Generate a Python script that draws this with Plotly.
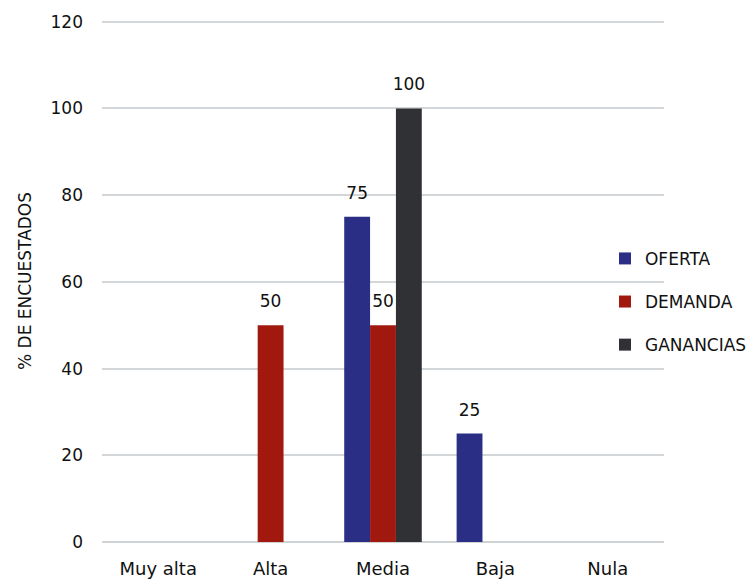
import plotly.graph_objects as go

categories = ["Muy alta", "Alta", "Media", "Baja", "Nula"]
oferta = [0, 0, 75, 25, 0]
demanda = [0, 50, 50, 0, 0]
ganancias = [0, 0, 100, 0, 0]
series_names = ["OFERTA", "DEMANDA", "GANANCIAS"]
y_ticks = [0, 20, 40, 60, 80, 100, 120]

colors = ["#2a2f85", "#a0180e", "#2f3134"]
font_family = "'DejaVu Sans', sans-serif"

fig = go.Figure()
for i, (name, vals) in enumerate(zip(series_names, [oferta, demanda, ganancias])):
    fig.add_trace(go.Bar(
        x=categories, y=vals, name=name,
        marker=dict(color=colors[i], line=dict(width=0)),
        text=[f"<span style='font-size:17px'>{v}</span><br>\u00a0" if v else "" for v in vals],
        textposition="outside",
        constraintext="none",
        textfont=dict(size=10, color="#111111", family=font_family),
        cliponaxis=False,
        legendgroup=name,
    ))

# The page body has an 8px default margin; the figure is sized so it ends at the window edge.
fig.update_layout(
    width=747, height=576,
    margin=dict(l=94, r=91, t=12, b=42, autoexpand=False),
    paper_bgcolor="white", plot_bgcolor="white",
    barmode="group", bargap=0.31, bargroupgap=0,
    font=dict(family=font_family, color="#111111", size=16),
    legend=dict(
        x=0.895, y=0.46, xanchor="left", yanchor="middle",
        bgcolor="rgba(0,0,0,0)", tracegroupgap=18,
        font=dict(size=17, color="#111111", family=font_family),
    ),
    xaxis=dict(showgrid=False, showline=False, ticks="", automargin=False,
               tickfont=dict(size=18, color="#111111"), ticklabelstandoff=14),
    yaxis=dict(
        range=[0, 120.4], tickvals=y_ticks, showgrid=True, gridcolor="#d3d7d9", gridwidth=2,
        zeroline=True, zerolinecolor="#cfd3d5", zerolinewidth=2, automargin=False,
        tickfont=dict(size=17, color="#111111"), ticklabelstandoff=18,
        title=dict(text="% DE ENCUESTADOS", font=dict(size=17, color="#111111"), standoff=14),
    ),
)

fig.write_html("out.html")
